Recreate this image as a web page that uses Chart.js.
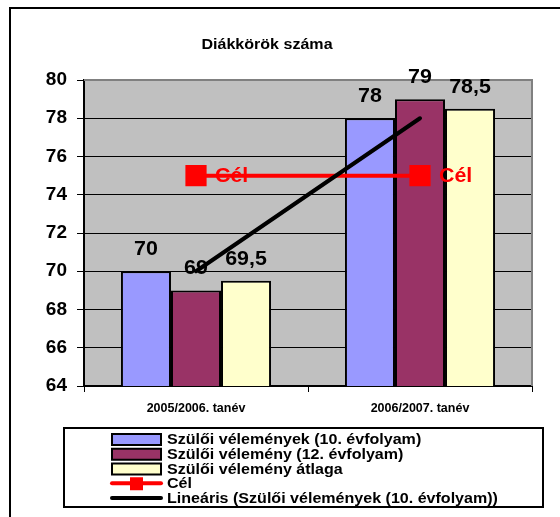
<!DOCTYPE html>
<html>
<head>
<meta charset="utf-8">
<script src="https://cdn.jsdelivr.net/npm/chart.js@4/dist/chart.umd.min.js"></script>
<style>
body { margin: 0; background: #fff; }
canvas { display: block; }
</style>
</head>
<body>
<canvas id="grafik" width="560" height="517"></canvas>
<script>
// adatok
var tanevek = ['2005/2006. tanév', '2006/2007. tanév'];
var evf10 = [70, 78];
var evf12 = [69, 79];
var atlag = [69.5, 78.5];
var cel = [75, 75];
var linearis = [70, 78];
var yMin = 64, yMax = 80, yLepes = 2;

var betu = 'Liberation Sans, Arial, sans-serif';
var nyujt = 1.07; // a kep kicsit szeles betui

function szoveg(ctx, s, x, y){
	ctx.save();
	ctx.translate(x, y);
	ctx.scale(nyujt, 1);
	ctx.fillText(s, 0, 0);
	ctx.restore();
}

var keret = {
	id: 'keret',
	beforeDraw: function(chart){
		var ctx = chart.ctx, a = chart.chartArea;
		ctx.save();
		ctx.fillStyle = '#fff';
		ctx.fillRect(0, 0, chart.width, chart.height);
		// kulso keret
		ctx.strokeStyle = '#000';
		ctx.lineWidth = 2;
		ctx.beginPath();
		ctx.moveTo(10, 517);
		ctx.lineTo(10, 8);
		ctx.lineTo(560, 8);
		ctx.stroke();
		ctx.fillStyle = '#C0C0C0';
		ctx.fillRect(a.left, a.top, a.right - a.left, a.bottom - a.top);
		// cim
		ctx.fillStyle = '#000';
		ctx.font = 'bold 15px ' + betu;
		ctx.textAlign = 'center';
		ctx.textBaseline = 'middle';
		szoveg(ctx, 'Diákkörök száma', 267, 45);
		ctx.restore();
	},
	beforeDatasetsDraw: function(chart){
		var ctx = chart.ctx, a = chart.chartArea;
		ctx.save();
		ctx.strokeStyle = '#808080';
		ctx.lineWidth = 2;
		ctx.beginPath();
		ctx.moveTo(a.left, a.top);
		ctx.lineTo(a.right, a.top);
		ctx.lineTo(a.right, a.bottom);
		ctx.stroke();
		ctx.restore();
	},
	afterDatasetDraw: function(chart, args){
		var ctx = chart.ctx;
		var ds = chart.data.datasets[args.index];
		ctx.save();
		if (ds.type === 'bar') {
			ctx.fillStyle = '#000';
			ctx.font = 'bold 20px ' + betu;
			ctx.textAlign = 'center';
			ctx.textBaseline = 'alphabetic';
			args.meta.data.forEach(function(el, i){
				var s = String(ds.data[i]).replace('.', ',');
				szoveg(ctx, s, el.x, el.y - 16);
			});
		} else if (ds.label === 'Cél') {
			ctx.fillStyle = '#FF0000';
			ctx.font = 'bold 20px ' + betu;
			ctx.textAlign = 'left';
			ctx.textBaseline = 'middle';
			args.meta.data.forEach(function(el){
				szoveg(ctx, ds.label, el.x + 19, el.y + 1);
			});
		}
		ctx.restore();
	},
	afterDraw: function(chart){
		// jelmagyarazat
		var ctx = chart.ctx;
		ctx.save();
		ctx.fillStyle = '#fff';
		ctx.fillRect(64, 428, 479, 79);
		ctx.strokeStyle = '#000';
		ctx.lineWidth = 2;
		ctx.strokeRect(64, 428, 479, 79);
		ctx.font = 'bold 15px ' + betu;
		ctx.textAlign = 'left';
		ctx.textBaseline = 'middle';
		chart.data.datasets.forEach(function(ds, i){
			var y = 439 + i * 14.75;
			if (ds.type === 'bar') {
				ctx.fillStyle = ds.backgroundColor;
				ctx.fillRect(112, y - 5, 49, 11);
				ctx.lineWidth = 2;
				ctx.strokeStyle = '#000';
				ctx.strokeRect(112, y - 5, 49, 11);
			} else {
				ctx.strokeStyle = ds.borderColor;
				ctx.lineWidth = 4;
				ctx.lineCap = 'round';
				ctx.beginPath();
				ctx.moveTo(112, y);
				ctx.lineTo(161, y);
				ctx.stroke();
				if (ds.pointRadius > 0) {
					ctx.fillStyle = ds.pointBackgroundColor;
					ctx.fillRect(130, y - 6, 13, 13);
				}
			}
			ctx.fillStyle = '#000';
			szoveg(ctx, ds.label, 167, y + 1);
		});
		ctx.restore();
	}
};

var adat = {
	labels: tanevek,
	datasets: [
		{ type: 'bar', label: 'Szülői vélemények (10. évfolyam)', data: evf10, backgroundColor: '#9999FF', borderColor: '#000', borderWidth: 2, order: 3 },
		{ type: 'bar', label: 'Szülői vélemény (12. évfolyam)', data: evf12, backgroundColor: '#993366', borderColor: '#000', borderWidth: 2, order: 3 },
		{ type: 'bar', label: 'Szülői vélemény átlaga', data: atlag, backgroundColor: '#FFFFCC', borderColor: '#000', borderWidth: 2, order: 3 },
		{ type: 'line', label: 'Cél', data: cel, borderColor: '#FF0000', borderWidth: 4, pointStyle: 'rect', pointRadius: 15, pointBorderWidth: 0, pointBackgroundColor: '#FF0000', pointBorderColor: '#FF0000', order: 2 },
		{ type: 'line', label: 'Lineáris (Szülői vélemények (10. évfolyam))', data: linearis, borderColor: '#000', borderWidth: 4, borderCapStyle: 'round', pointRadius: 0, order: 1 }
	]
};

var grafikon = new Chart(document.getElementById('grafik'), {
	type: 'bar',
	data: adat,
	plugins: [keret],
	options: {
		responsive: false,
		animation: false,
		devicePixelRatio: 1,
		layout: { padding: { top: 80, left: 0, right: 28, bottom: 91 } },
		datasets: { bar: { barPercentage: 1, categoryPercentage: 0.67 } },
		plugins: { legend: { display: false }, title: { display: false }, tooltip: { enabled: false } },
		scales: {
			x: {
				offset: true,
				afterFit: function(s){ s.height = 40; },
				grid: { drawOnChartArea: false, drawTicks: true, tickLength: 6, color: '#000', lineWidth: 1, offset: true },
				border: { color: '#000', width: 2 },
				ticks: { color: '#000', padding: 9, font: { family: betu, size: 12.5, weight: 'bold' } }
			},
			y: {
				min: yMin,
				max: yMax,
				afterFit: function(s){ s.width = 84; },
				grid: { color: '#000', lineWidth: 1, tickLength: 7 },
				border: { color: '#000', width: 2 },
				ticks: { stepSize: yLepes, color: '#000', padding: 10, font: { family: betu, size: 19, weight: 'bold' } }
			}
		}
	}
});
</script>
</body>
</html>
